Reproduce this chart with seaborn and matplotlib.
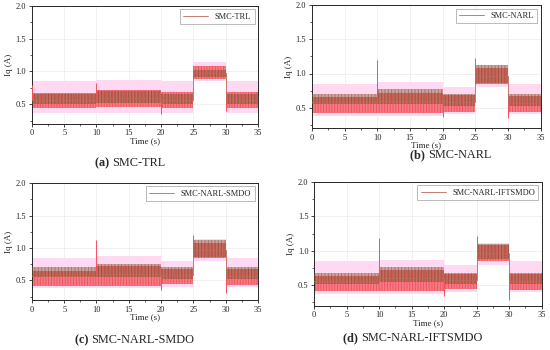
import numpy as np
import matplotlib
matplotlib.use('Agg')
import matplotlib.pyplot as plt
import seaborn as sns
import pandas as pd

# segment boundaries (s)
seg_edges = [0, 10, 20, 25, 30, 35]
panel_names = ['SMC-TRL', 'SMC-NARL', 'SMC-NARL-SMDO', 'SMC-NARL-IFTSMDO']
panel_tags = ['(a)', '(b)', '(c)', '(d)']

# per panel, per segment: mean level, dark (brown) band, red band, pink band
a_mean = [0.57, 0.60, 0.57, 0.97, 0.56]
a_brown_lo = [0.50, 0.52, 0.50, 0.92, 0.50]
a_brown_hi = [0.65, 0.70, 0.66, 1.03, 0.65]
a_red_lo = [0.45, 0.46, 0.45, 0.88, 0.45]
a_red_hi = [0.67, 0.72, 0.68, 1.08, 0.68]
a_pink_lo = [0.37, 0.37, 0.37, 0.86, 0.37]
a_pink_hi = [0.85, 0.87, 0.85, 1.15, 0.85]

b_mean = [0.58, 0.60, 0.58, 0.97, 0.57]
b_brown_lo = [0.55, 0.55, 0.52, 0.86, 0.52]
b_brown_hi = [0.70, 0.77, 0.70, 1.12, 0.70]
b_red_lo = [0.42, 0.42, 0.44, 0.85, 0.43]
b_red_hi = [0.65, 0.72, 0.68, 1.08, 0.67]
b_pink_lo = [0.38, 0.38, 0.40, 0.80, 0.40]
b_pink_hi = [0.85, 0.87, 0.80, 1.12, 0.85]

c_mean = [0.57, 0.60, 0.58, 0.97, 0.57]
c_brown_lo = [0.55, 0.55, 0.52, 0.86, 0.52]
c_brown_hi = [0.70, 0.76, 0.70, 1.12, 0.70]
c_red_lo = [0.42, 0.42, 0.44, 0.85, 0.43]
c_red_hi = [0.65, 0.72, 0.68, 1.08, 0.67]
c_pink_lo = [0.38, 0.38, 0.40, 0.80, 0.40]
c_pink_hi = [0.85, 0.88, 0.80, 1.14, 0.85]

d_mean = [0.56, 0.60, 0.57, 0.97, 0.56]
d_brown_lo = [0.52, 0.55, 0.52, 0.88, 0.52]
d_brown_hi = [0.68, 0.76, 0.68, 1.10, 0.68]
d_red_lo = [0.42, 0.42, 0.44, 0.85, 0.43]
d_red_hi = [0.64, 0.72, 0.67, 1.08, 0.66]
d_pink_lo = [0.38, 0.38, 0.40, 0.80, 0.40]
d_pink_hi = [0.85, 0.87, 0.80, 1.12, 0.85]

# transient spikes at switching instants
a_spike_t = [0.05, 10.0, 20.0, 30.0]
a_spike_v = [0.80, 0.82, 0.35, 0.40]
b_spike_t = [10.0, 20.0, 25.0, 30.0]
b_spike_v = [1.20, 0.36, 1.22, 0.35]
c_spike_t = [10.0, 20.0, 25.0, 30.0]
c_spike_v = [1.12, 0.35, 1.20, 0.30]
d_spike_t = [10.0, 20.0, 25.0, 30.0]
d_spike_v = [1.18, 0.35, 1.22, 0.28]

panels = [
    (a_mean, a_brown_lo, a_brown_hi, a_red_lo, a_red_hi, a_pink_lo, a_pink_hi, a_spike_t, a_spike_v),
    (b_mean, b_brown_lo, b_brown_hi, b_red_lo, b_red_hi, b_pink_lo, b_pink_hi, b_spike_t, b_spike_v),
    (c_mean, c_brown_lo, c_brown_hi, c_red_lo, c_red_hi, c_pink_lo, c_pink_hi, c_spike_t, c_spike_v),
    (d_mean, d_brown_lo, d_brown_hi, d_red_lo, d_red_hi, d_pink_lo, d_pink_hi, d_spike_t, d_spike_v),
]

# axes rectangles [left, bottom, width, height] in figure fraction
rects = [
    [0.058, 0.646, 0.411, 0.337],
    [0.567, 0.634, 0.416, 0.351],
    [0.058, 0.143, 0.411, 0.334],
    [0.571, 0.126, 0.414, 0.354],
]
# caption left edge / vertical centre, pixels from top-left
captions_px = [(95, 163), (410, 155), (75, 340), (343, 338)]

sns.set_style('ticks')
plt.rcParams['font.family'] = ['Liberation Serif', 'DejaVu Serif']
plt.rcParams['hatch.linewidth'] = 0.6

pink = '#ffd9f1'
red = '#f2505c'
brown = '#8f5a36'


def steps(vals):
    # repeat last value so steps-post covers the final segment
    return list(vals) + [vals[-1]]


fig = plt.figure(figsize=(5.5, 3.5), dpi=100)
renderer = fig.canvas.get_renderer()
for i, (mean, blo, bhi, rlo, rhi, plo, phi, st, sv) in enumerate(panels):
    ax = fig.add_axes(rects[i])
    df = pd.DataFrame({'t': seg_edges, 'mean': steps(mean)})
    ax.fill_between(seg_edges, steps(plo), steps(phi), step='post', color=pink, lw=0, zorder=1)
    ax.fill_between(seg_edges, steps(rlo), steps(rhi), step='post', facecolor='#f47a84',
                    edgecolor=red, hatch='||||||', lw=0, zorder=2)
    ax.fill_between(seg_edges, steps(blo), steps(bhi), step='post', facecolor=brown, alpha=0.45,
                    edgecolor='#6e4020', hatch='|||||', lw=0, zorder=3)
    for t, v in zip(st, sv):
        k = min(np.searchsorted(seg_edges, t, side='right') - 1, len(mean) - 1)
        ax.vlines(t, min(v, mean[k]), max(v, mean[k]), color=red, lw=0.7, zorder=3)
    sns.lineplot(data=df, x='t', y='mean', drawstyle='steps-post', color='#b86a58',
                 lw=0.6, ax=ax, zorder=4, label=panel_names[i])
    ax.set_xlim(0, 35)
    ax.set_ylim(0.2, 2.0)
    ax.set_xticks(range(0, 36, 5))
    ax.set_xticks(np.arange(2.5, 35, 5), minor=True)
    ax.set_yticks([0.5, 1.0, 1.5, 2.0])
    ax.set_yticks([0.25, 0.75, 1.25, 1.75], minor=True)
    ax.grid(True, color='#ececec', lw=0.5)
    ax.tick_params(labelsize=6, length=2.5, width=0.6, pad=1.5)
    ax.tick_params(which='minor', length=1.5, width=0.5)
    for s in ax.spines.values():
        s.set_linewidth(0.7)
    ax.set_xlabel('Time (s)', fontsize=6.5, labelpad=0)
    ax.set_ylabel('Iq (A)', fontsize=6.5, labelpad=2)
    leg = ax.legend(loc='upper right', fontsize=6, frameon=True, fancybox=False,
                    handlelength=3, borderpad=0.4, borderaxespad=0.4)
    leg.get_frame().set_edgecolor('#888888')
    leg.get_frame().set_linewidth(0.5)
    cx, cy = captions_px[i]
    fy = 1 - cy / 350
    tag = fig.text(cx / 550, fy, panel_tags[i] + ' ', fontsize=8.8, fontweight='bold',
                   ha='left', va='center')
    w = tag.get_window_extent(renderer).width
    fig.text((cx + w) / 550, fy, panel_names[i], fontsize=8.8, ha='left', va='center')

fig.savefig('out.png', dpi=100)
